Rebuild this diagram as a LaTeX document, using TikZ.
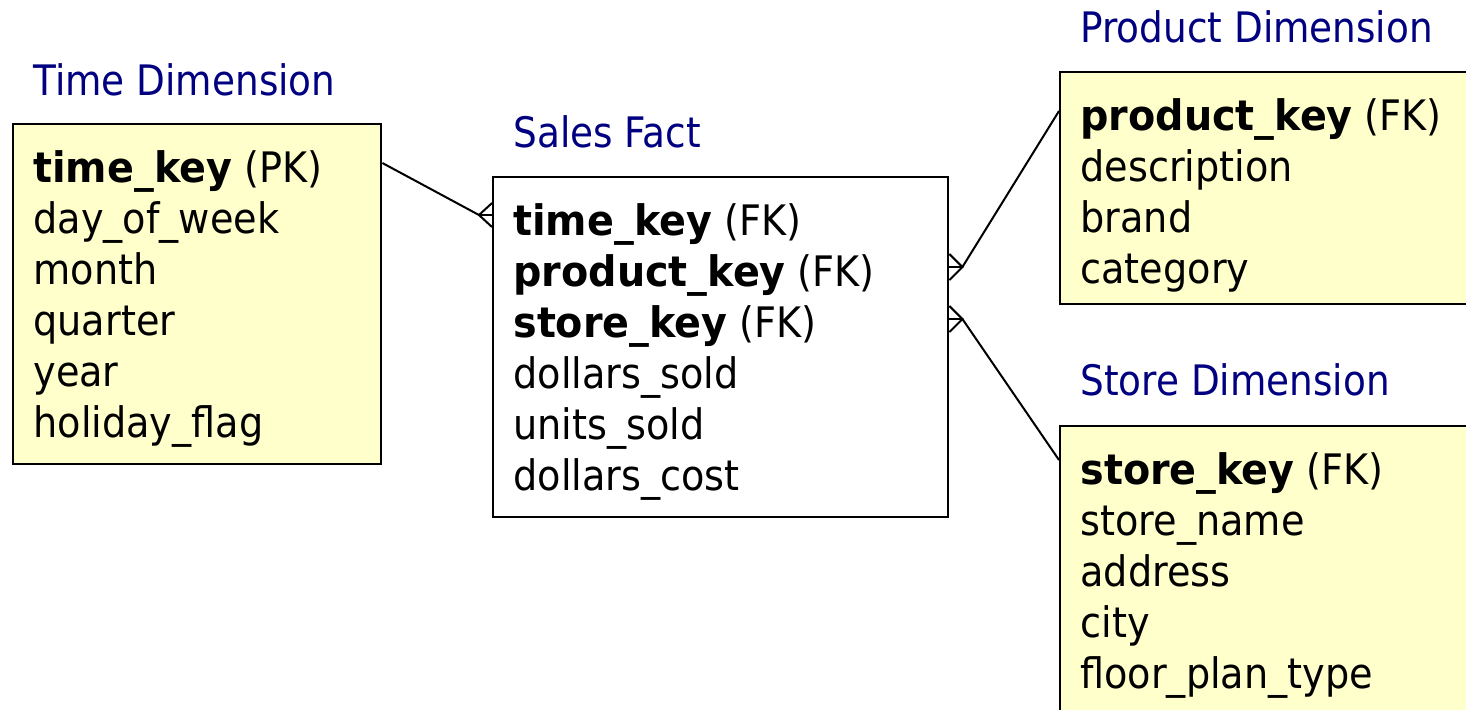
\documentclass[tikz,border=0pt]{standalone}
\usepackage{fontspec}
\setmainfont{DejaVu Sans}[FakeStretch=0.91,BoldFeatures={FakeStretch=0.945}]
\newfontfamily\titlefont{DejaVu Sans}[FakeStretch=0.89]
\usetikzlibrary{calc}
\definecolor{dimfill}{HTML}{FFFFCC}
\definecolor{titleblue}{HTML}{000080}
\begin{document}
\begin{tikzpicture}[x=0.5pt,y=-0.5pt,
  tbl/.style={draw=black, line width=1.2pt, inner sep=0pt, anchor=north west},
  dim/.style={tbl, fill=dimfill},
  fact/.style={tbl, fill=white},
  title/.style={anchor=base west, inner sep=0pt, text=titleblue, font=\titlefont\fontsize{21}{25.5}\selectfont},
  fields/.style={anchor=base west, inner sep=0pt, align=left, font=\fontsize{21}{25.5}\selectfont},
  link/.style={draw=black, line width=1pt}]
\clip (0,0) rectangle (1466,709);
\fill[white] (0,0) rectangle (1466,709);
% boxes
\node[dim, minimum width=184pt, minimum height=170pt] (time) at (12,123) {};
\node[fact, minimum width=227.5pt, minimum height=170pt] (sales) at (492,176) {};
\node[dim, minimum width=215pt, minimum height=116pt] (product) at (1059,71) {};
\node[dim, minimum width=215pt, minimum height=160pt] (store) at (1059,425) {};
% titles
\node[title] (ttime) at (33,95) {Time Dimension};
\node[title] (tsales) at (513,147) {Sales Fact};
\node[title] (tproduct) at (1080,42) {Product Dimension};
\node[title] (tstore) at (1080,395) {Store Dimension};
% fields
\node[fields] (ftime) at (33,182) {\begin{tabular}[t]{@{}l@{}}\textbf{time\_key} (PK)\\ day\_of\_week\\ month\\ quarter\\ year\\ holiday\_flag\end{tabular}};
\node[fields] (fsales) at (513,235) {\begin{tabular}[t]{@{}l@{}}\textbf{time\_key} (FK)\\ \textbf{product\_key} (FK)\\ \textbf{store\_key} (FK)\\ dollars\_sold\\ units\_sold\\ dollars\_cost\end{tabular}};
\node[fields] (fproduct) at (1080,130) {\begin{tabular}[t]{@{}l@{}}\textbf{product\_key} (FK)\\ description\\ brand\\ category\end{tabular}};
\node[fields] (fstore) at (1080,484) {\begin{tabular}[t]{@{}l@{}}\textbf{store\_key} (FK)\\ store\_name\\ address\\ city\\ floor\_plan\_type\end{tabular}};
% connectors with crow's feet
\coordinate (tv) at ($(sales.north west)+(-13,39)$);
\draw[link] ($(time.north east)+(0,40)$) -- (tv);
\draw[link] ($(sales.north west)+(0,27)$) -- (tv) -- ($(sales.north west)+(0,51)$);
\draw[link] (tv) -- ($(sales.north west)+(0,39)$);
\coordinate (pv) at ($(sales.north east)+(13,91)$);
\draw[link] ($(product.north west)+(0,40)$) -- (pv);
\draw[link] ($(sales.north east)+(0,78)$) -- (pv) -- ($(sales.north east)+(0,104)$);
\draw[link] (pv) -- ($(sales.north east)+(0,91)$);
\coordinate (sv) at ($(sales.north east)+(13,143)$);
\draw[link] ($(store.north west)+(0,35)$) -- (sv);
\draw[link] ($(sales.north east)+(0,130)$) -- (sv) -- ($(sales.north east)+(0,156)$);
\draw[link] (sv) -- ($(sales.north east)+(0,143)$);
\end{tikzpicture}
\end{document}
